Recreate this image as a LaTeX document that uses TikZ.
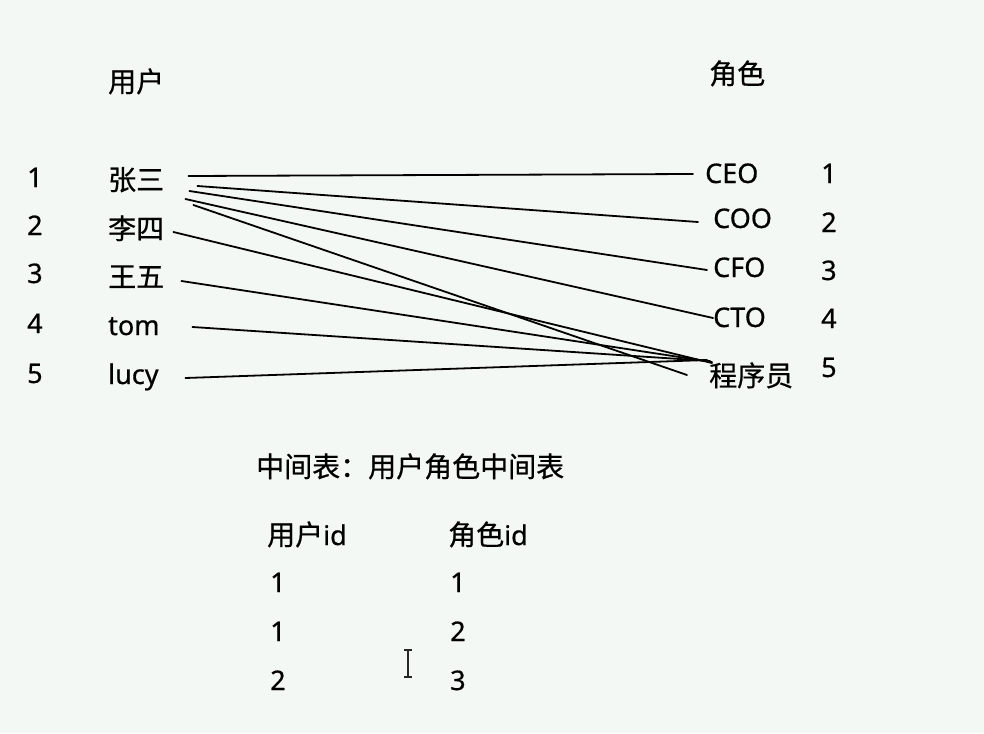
\documentclass[tikz,border=0pt]{standalone}
\usepackage{fontspec}
\setmainfont{Noto Sans}[FakeBold=0.6]
\newfontfamily\cjk{Noto Sans CJK SC}[FakeBold=0.6]
\definecolor{bgpaper}{RGB}{244,248,244}
\usetikzlibrary{positioning}
\tikzset{
  lbl/.style={font=\fontsize{27}{32}\selectfont, inner sep=0pt, anchor=base west},
  hanzi/.style={lbl, font=\cjk\fontsize{28}{32}\selectfont},
  usrname/.style={text width=56pt, align=left},
  link/.style={line width=1.8pt, black, line cap=round},
}

\begin{document}
\begin{tikzpicture}[x=1pt, y=-1pt]
  % Background
  \fill[bgpaper] (0,0) rectangle (984,733);
  \useasboundingbox (0,0) rectangle (984,733);

  % Headers
  \node[hanzi] (usrhead) at (108,92) {用户};
  \node[hanzi] (rolehead) at (709,84) {角色};

  % Users with ids
  \node[lbl] (un1) at (27,187) {1};
  \node[lbl] (un2) at (27,235) {2};
  \node[lbl] (un3) at (27,283) {3};
  \node[lbl] (un4) at (27,333) {4};
  \node[lbl] (un5) at (27,383) {5};
  \node[hanzi, usrname] (u1) at (108,190) {张三};
  \node[hanzi, usrname] (u2) at (108,239) {李四};
  \node[hanzi, usrname] (u3) at (108,287) {王五};
  \node[lbl, usrname] (u4) at (108,335) {tom};
  \node[lbl, usrname] (u5) at (108,384) {lucy};

  % Roles with ids
  \node[lbl] (r1) at (705,183) {CEO};
  \node[lbl] (r2) at (713,228) {COO};
  \node[lbl] (r3) at (713,277) {CFO};
  \node[lbl] (r4) at (713,327) {CTO};
  \node[hanzi] (r5) at (709,386) {程序员};
  \node[lbl] (rn1) at (821,183) {1};
  \node[lbl] (rn2) at (821,232) {2};
  \node[lbl] (rn3) at (821,280) {3};
  \node[lbl] (rn4) at (821,328) {4};
  \node[lbl] (rn5) at (821,377) {5};

  % Links from users to roles
  \draw[link] ([shift={(24pt,14pt)}]u1.base east) -- ([shift={(-12pt,9pt)}]r1.base west);
  \draw[link] ([shift={(33pt,4pt)}]u1.base east) -- ([shift={(-15pt,6pt)}]r2.base west);
  \draw[link] ([shift={(25pt,-1pt)}]u1.base east) -- ([shift={(-6pt,7pt)}]r3.base west);
  \draw[link] ([shift={(21pt,-9pt)}]u1.base east) -- ([shift={(0pt,9pt)}]r4.base west);
  \draw[link] ([shift={(29pt,-15pt)}]u1.base east) -- ([shift={(-22pt,11pt)}]r5.base west);
  \draw[link] ([shift={(9pt,7pt)}]u2.base east) -- ([shift={(3pt,23pt)}]r5.base west);
  \draw[link] ([shift={(17pt,6pt)}]u3.base east) -- ([shift={(3pt,24pt)}]r5.base west);
  \draw[link] ([shift={(28pt,8pt)}]u4.base east) -- ([shift={(1pt,25pt)}]r5.base west);
  \draw[link] ([shift={(21pt,6pt)}]u5.base east) -- ([shift={(-2pt,26pt)}]r5.base west);

  % Join table
  \node[hanzi] (jointitle) at (256,477) {中间表：用户角色中间表};
  \node[lbl] (uidhead) at (267,545) {{\cjk\fontsize{28}{32}\selectfont 用户}id};
  \node[lbl] (ridhead) at (448,545) {{\cjk\fontsize{28}{32}\selectfont 角色}id};
  \node[lbl] (ja1) at (270,592) {1};
  \node[lbl] (ja2) at (270,641) {1};
  \node[lbl] (ja3) at (270,690) {2};
  \node[lbl] (jb1) at (450,592) {1};
  \node[lbl] (jb2) at (450,641) {2};
  \node[lbl] (jb3) at (450,690) {3};

  % Text cursor
  \draw[line width=1.4pt, black!85] (404,650) -- (412,650) (408,650) -- (408,677) (404,677) -- (412,677);
\end{tikzpicture}
\end{document}
